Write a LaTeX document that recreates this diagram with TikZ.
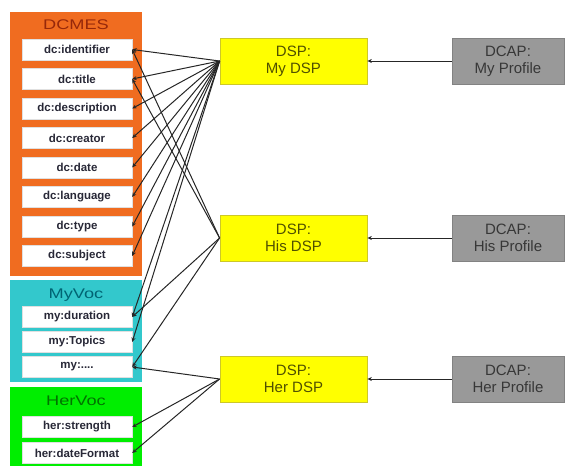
\documentclass[tikz,border=0pt]{standalone}
\usepackage{fontspec}
\setmainfont{Liberation Sans}
\newfontfamily\widefont[FakeStretch=1.3]{Liberation Sans}
\usetikzlibrary{arrows.meta}
\definecolor{orng}{RGB}{240,108,32}
\definecolor{orngtxt}{RGB}{150,40,10}
\definecolor{teal1}{RGB}{51,200,204}
\definecolor{tealtxt}{RGB}{0,100,115}
\definecolor{grn}{RGB}{0,238,0}
\definecolor{grntxt}{RGB}{0,115,0}
\definecolor{ylw}{RGB}{255,255,0}
\definecolor{ylwdraw}{RGB}{205,200,40}
\definecolor{ylwtxt}{RGB}{80,80,0}
\definecolor{gry}{RGB}{153,153,153}
\definecolor{grydraw}{RGB}{130,130,130}
\definecolor{grytxt}{RGB}{55,55,55}
\definecolor{elemtxt}{RGB}{40,40,55}
\begin{document}
\begin{tikzpicture}[x=1pt,y=-1pt,
  group/.style={minimum width=132pt, inner sep=0pt, outer sep=0pt},
  grouptitle/.style={font=\widefont\fontsize{14}{14}\selectfont, inner sep=0pt},
  elem/.style={fill=white, draw=white!88!black, line width=0.4pt, minimum width=110pt, minimum height=21pt, inner sep=0pt, font=\fontsize{11.5}{12}\selectfont\bfseries, text=elemtxt},
  dsp/.style={fill=ylw, draw=ylwdraw, line width=0.8pt, minimum width=147pt, minimum height=46pt, inner sep=0pt, align=center, font=\fontsize{15}{17}\selectfont, text=ylwtxt},
  dcap/.style={fill=gry, draw=grydraw, line width=0.6pt, minimum width=112pt, minimum height=46pt, inner sep=0pt, align=center, font=\fontsize{15}{17}\selectfont, text=grytxt},
  link/.style={-{Stealth[length=4.5pt,width=4pt]}, draw=black!85, line width=1pt}
]
\useasboundingbox (0,0) rectangle (566,466);

% groups
\node[group, fill=orng, minimum height=264pt] (dcmes) at (76,144) {};
\node[grouptitle, text=orngtxt] (dcmest) at (76,25) {DCMES};
\node[group, fill=teal1, minimum height=102pt] (myvoc) at (76,331) {};
\node[grouptitle, text=tealtxt] (myvoct) at (76,295) {MyVoc};
\node[group, fill=grn, minimum height=82pt] (hervoc) at (76,428) {};
\node[grouptitle, text=grntxt] (hervoct) at (76,401) {HerVoc};

% elements
\node[elem] (id) at (77,49.5) {dc:identifier};
\node[elem] (title) at (77,79) {dc:title};
\node[elem] (desc) at (77,108.5) {dc:description};
\node[elem] (creator) at (77,138) {dc:creator};
\node[elem] (date) at (77,167.5) {dc:date};
\node[elem] (lang) at (77,197) {dc:language};
\node[elem] (type) at (77,226.5) {dc:type};
\node[elem] (subject) at (77,256) {dc:subject};
\node[elem] (dur) at (77,317) {my:duration};
\node[elem] (topics) at (77,342) {my:Topics};
\node[elem] (mydots) at (77,367) {my:....};
\node[elem] (strength) at (77,427) {her:strength};
\node[elem] (datefmt) at (77,453) {her:dateFormat};

% DSPs
\node[dsp] (mydsp) at (293.5,61) {DSP:\\My DSP};
\node[dsp] (hisdsp) at (293.5,238) {DSP:\\His DSP};
\node[dsp] (herdsp) at (293.5,379) {DSP:\\Her DSP};

% DCAPs
\node[dcap] (myprof) at (508,61) {DCAP:\\My Profile};
\node[dcap] (hisprof) at (508,238) {DCAP:\\His Profile};
\node[dcap] (herprof) at (508,379) {DCAP:\\Her Profile};

% DCAP -> DSP
\draw[link] (myprof.west) -- (mydsp.east);
\draw[link] (hisprof.west) -- (hisdsp.east);
\draw[link] (herprof.west) -- (herdsp.east);

% My DSP
\foreach \e in {id,title,desc,creator,date,lang,type,subject,dur,topics}
  \draw[link] (mydsp.west) -- (\e.east);
% His DSP
\foreach \e in {id,title,dur,mydots}
  \draw[link] (hisdsp.west) -- (\e.east);
% Her DSP
\foreach \e in {mydots,strength,datefmt}
  \draw[link] (herdsp.west) -- (\e.east);
\end{tikzpicture}
\end{document}
